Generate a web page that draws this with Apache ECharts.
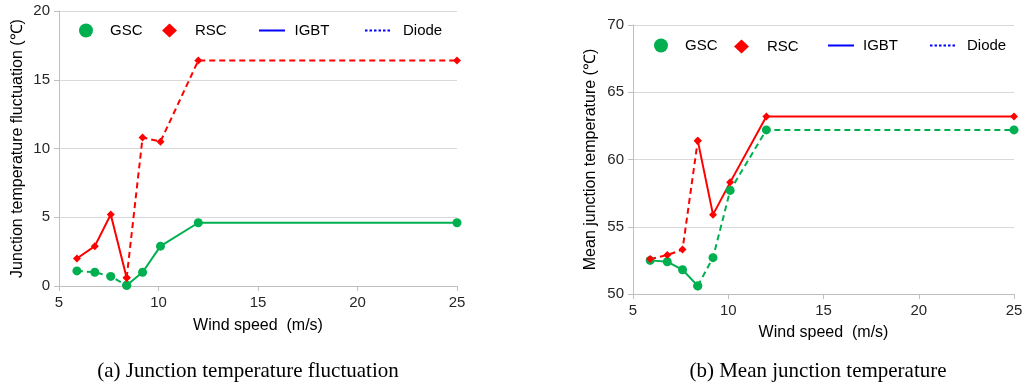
<!DOCTYPE html>
<html>
<head>
<meta charset="utf-8">
<script src="https://cdn.jsdelivr.net/npm/echarts@6/dist/echarts.min.js"></script>
<style>html,body{margin:0;padding:0;background:#fff;}#c{width:1026px;height:385px;}</style>
</head>
<body>
<div id="c"></div>
<script>
// ---- data ----
var windSpeed = [5.9, 6.8, 7.6, 8.4, 9.2, 10.1, 12, 25];
var gscFluct  = [1.1, 1.0, 0.7, 0.05, 1.0, 2.9, 4.6, 4.6];
var rscFluct  = [2.0, 2.9, 5.2, 0.6, 10.8, 10.5, 16.4, 16.4];
var gscMean   = [52.5, 52.4, 51.8, 50.6, 52.7, 57.7, 62.2, 62.2];
var rscMean   = [52.6, 52.9, 53.3, 61.4, 55.9, 58.3, 63.2, 63.2];
var switchIdx = 3; // IGBT/Diode dominance changes at 8.4 m/s
var xTicks = [5, 10, 15, 20, 25];
var yTicksA = [0, 5, 10, 15, 20];
var yTicksB = [50, 55, 60, 65, 70];
var captionA = '(a) Junction temperature fluctuation';
var captionB = '(b) Mean junction temperature';
var xName = 'Wind speed  (m/s)';
var yNameA = 'Junction temperature fluctuation (\u2103)';
var yNameB = 'Mean junction temperature (\u2103)';

var GREEN = '#00B050', RED = '#FF0000', BLUE = '#0000FF';
var FONT = '"Liberation Sans", Arial, sans-serif';
var SERIF = '"Liberation Serif", "Times New Roman", serif';
var DASH = [6, 4];
var SOLID_ICON = 'path://M0,0H26V2H0Z';
var DOT_ICON = 'path://M0,0H2.5V2H0Z M4.5,0H7V2H4.5Z M9,0H11.5V2H9Z M13.5,0H16V2H13.5Z M18,0H20.5V2H18Z M22.5,0H25V2H22.5Z';

function pairs(xs, ys, a, b) {
  var out = [];
  for (var i = a; i <= b; i++) out.push([xs[i], ys[i]]);
  return out;
}
function seg(name, color, symbol, size, dashed, gi, ys, a, b) {
  return {
    name: name, type: 'line', xAxisIndex: gi, yAxisIndex: gi,
    data: pairs(windSpeed, ys, a, b),
    symbol: symbol, symbolSize: size, showSymbol: true,
    itemStyle: { color: color },
    lineStyle: { color: color, width: 2, type: dashed ? DASH : 'solid' },
    z: 3, silent: true
  };
}
var last = windSpeed.length - 1;
var series = [
  seg('GSC', GREEN, 'circle', 9, true, 0, gscFluct, 0, switchIdx),
  seg('GSC', GREEN, 'circle', 9, false, 0, gscFluct, switchIdx, last),
  seg('RSC', RED, 'diamond', 8, false, 0, rscFluct, 0, switchIdx),
  seg('RSC', RED, 'diamond', 8, true, 0, rscFluct, switchIdx, last),
  seg('GSC', GREEN, 'circle', 9, false, 1, gscMean, 0, switchIdx),
  seg('GSC', GREEN, 'circle', 9, true, 1, gscMean, switchIdx, last),
  seg('RSC', RED, 'diamond', 8, true, 1, rscMean, 0, switchIdx),
  seg('RSC', RED, 'diamond', 8, false, 1, rscMean, switchIdx, last),
  { name: 'IGBT', type: 'line', data: [], symbol: 'none', xAxisIndex: 0, yAxisIndex: 0,
    itemStyle: { color: BLUE }, lineStyle: { color: BLUE, width: 2 } },
  { name: 'Diode', type: 'line', data: [], symbol: 'none', xAxisIndex: 0, yAxisIndex: 0,
    itemStyle: { color: BLUE }, lineStyle: { color: BLUE, width: 2, type: [3, 2] } }
];

function leg(name, left, top, w, h, pad, icon) {
  return {
    data: [name], left: left, top: top, itemWidth: w, itemHeight: h, padding: 0,
    selectedMode: false, icon: icon,
    itemStyle: { borderWidth: 0 },
    lineStyle: { width: 0 },
    textStyle: { fontFamily: FONT, fontSize: 15, color: '#000', padding: [0, 0, 0, pad] }
  };
}
var legends = [
  leg('GSC', 79, 23, 14, 14, 12, 'circle'),
  leg('RSC', 162, 23, 15, 14, 13, 'diamond'),
  leg('IGBT', 259, 23, 27, 2, 4, SOLID_ICON),
  leg('Diode', 365, 23, 25, 2, 8, DOT_ICON),
  leg('GSC', 654, 38, 14, 14, 12, 'circle'),
  leg('RSC', 734, 39, 15, 14, 13, 'diamond'),
  leg('IGBT', 828, 38, 26, 2, 4, SOLID_ICON),
  leg('Diode', 930, 38, 25, 2, 7, DOT_ICON)
];

function xAx(gi, nameGap) {
  return {
    type: 'value', gridIndex: gi, min: xTicks[0], max: xTicks[xTicks.length - 1],
    interval: xTicks[1] - xTicks[0],
    name: xName, nameLocation: 'middle', nameGap: nameGap,
    nameTextStyle: { fontFamily: FONT, fontSize: 16, color: '#000' },
    axisLine: { show: true, lineStyle: { color: '#BFBFBF', width: 1 } },
    axisTick: { show: true, length: 5, lineStyle: { color: '#BFBFBF' } },
    axisLabel: { fontFamily: FONT, fontSize: 15, color: '#262626', margin: 9 },
    splitLine: { show: false }
  };
}
function yAx(gi, ticks, name, nameGap) {
  return {
    type: 'value', gridIndex: gi, min: ticks[0], max: ticks[ticks.length - 1],
    interval: ticks[1] - ticks[0],
    name: name, nameLocation: 'middle', nameGap: nameGap,
    nameTextStyle: { fontFamily: FONT, fontSize: 16, color: '#000' },
    axisLine: { show: true, lineStyle: { color: '#BFBFBF', width: 1 } },
    axisTick: { show: true, length: 5, lineStyle: { color: '#BFBFBF' } },
    axisLabel: { fontFamily: FONT, fontSize: 15, color: '#262626', margin: 9 },
    splitLine: { show: true, lineStyle: { color: '#D9D9D9', width: 1 } }
  };
}

var option = {
  animation: false,
  backgroundColor: '#fff',
  title: [
    { text: captionA, left: 243, top: 356, textAlign: 'center',
      textStyle: { fontFamily: SERIF, fontSize: 21, fontWeight: 'normal', color: '#000' } },
    { text: captionB, left: 813, top: 356, textAlign: 'center',
      textStyle: { fontFamily: SERIF, fontSize: 21, fontWeight: 'normal', color: '#000' } }
  ],
  legend: legends,
  grid: [
    { left: 59, top: 11, width: 398, height: 275 },
    { left: 633, top: 25, width: 381, height: 269 }
  ],
  xAxis: [xAx(0, 32), xAx(1, 31)],
  yAxis: [
    yAx(0, yTicksA, yNameA, 33),
    yAx(1, yTicksB, yNameB, 34)
  ],
  series: series
};
var chart = echarts.init(document.getElementById('c'), null, { renderer: 'canvas' });
chart.setOption(option);
</script>
</body>
</html>
